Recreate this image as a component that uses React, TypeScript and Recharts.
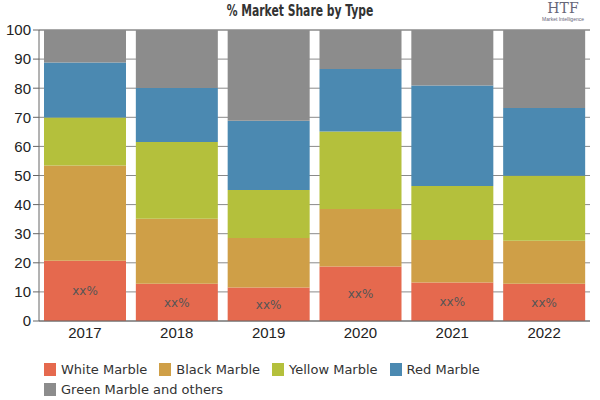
import { Bar, BarChart, CartesianGrid, LabelList, XAxis, YAxis } from "recharts"

const years = ["2017", "2018", "2019", "2020", "2021", "2022"]
const whiteMarble = [20.7, 12.8, 11.5, 18.7, 13.2, 12.8]
const blackMarble = [32.7, 22.3, 17.0, 19.8, 14.6, 14.8]
const yellowMarble = [16.5, 26.4, 16.5, 26.6, 18.6, 22.3]
const redMarble = [18.9, 18.6, 23.8, 21.5, 34.5, 23.3]
const greenMarble = [11.2, 19.9, 31.2, 13.4, 19.1, 26.8]
const yTicks = [0, 10, 20, 30, 40, 50, 60, 70, 80, 90, 100]

const series = [
  { key: "white", name: "White Marble", values: whiteMarble, color: "#E5694E" },
  { key: "black", name: "Black Marble", values: blackMarble, color: "#CF9F47" },
  { key: "yellow", name: "Yellow Marble", values: yellowMarble, color: "#B4C03C" },
  { key: "red", name: "Red Marble", values: redMarble, color: "#4B89B1" },
  { key: "green", name: "Green Marble and others", values: greenMarble, color: "#8C8C8C" },
]

const data = years.map((year, i) => {
  const row: Record<string, string | number> = { year }
  series.forEach((s) => {
    row[s.key] = s.values[i]
  })
  return row
})

const tickStyle = { fill: "#222", fontSize: 15, fontFamily: "Liberation Sans, Arial, sans-serif" }

export default function App() {
  return (
    <div style={{ position: "absolute", left: 0, top: 0, width: 600, height: 400, background: "#fff" }}>
      <div
        style={{
          position: "absolute",
          left: 0,
          top: 2,
          width: 600,
          textAlign: "center",
          fontFamily: "DejaVu Sans Condensed, sans-serif",
          fontWeight: "bold",
          fontSize: 15,
          color: "#333",
          transform: "scaleX(0.8)",
        }}
      >
        % Market Share by Type
      </div>
      <div style={{ position: "absolute", left: 528, top: 0, width: 70, textAlign: "center", color: "#667" }}>
        <div style={{ fontFamily: "DejaVu Serif, serif", fontSize: 14, lineHeight: "16px" }}>HTF</div>
        <div style={{ fontFamily: "Liberation Sans, sans-serif", fontSize: 5, lineHeight: "6px" }}>
          Market Intelligence
        </div>
      </div>
      <BarChart
        width={600}
        height={345}
        data={data}
        margin={{ top: 30, right: 10, bottom: 0, left: 0 }}
        barCategoryGap={5}
      >
        <CartesianGrid vertical={false} stroke="#8a8a8a" strokeDasharray="" />
        <XAxis
          dataKey="year"
          height={24}
          tick={tickStyle}
          tickLine={false}
          axisLine={{ stroke: "#666" }}
          tickMargin={0}
        />
        <YAxis
          width={39}
          domain={[0, 100]}
          ticks={yTicks}
          interval={0}
          tick={tickStyle}
          tickLine={{ stroke: "#666" }}
          tickSize={6}
          axisLine={{ stroke: "#666" }}
          tickMargin={2}
        />
        {series.map((s) => (
          <Bar key={s.key} dataKey={s.key} name={s.name} stackId="a" fill={s.color} isAnimationActive={false}>
            {s.key === "white" && (
              <LabelList
                dataKey={s.key}
                position="center"
                formatter={() => "xx%"}
                fill="#555"
                fontSize={12}
                fontFamily="DejaVu Sans, sans-serif"
              />
            )}
          </Bar>
        ))}
      </BarChart>
      <div
        style={{
          position: "absolute",
          left: 44,
          top: 361,
          width: 520,
          display: "flex",
          flexWrap: "wrap",
          rowGap: 4,
          fontFamily: "DejaVu Sans, sans-serif",
          fontSize: 13,
          color: "#333",
        }}
      >
        {series.map((s) => (
          <div key={s.key} style={{ display: "flex", alignItems: "center", marginRight: 12, height: 16 }}>
            <span style={{ width: 12, height: 13, background: s.color, marginRight: 5 }} />
            <span>{s.name}</span>
          </div>
        ))}
      </div>
    </div>
  )
}
